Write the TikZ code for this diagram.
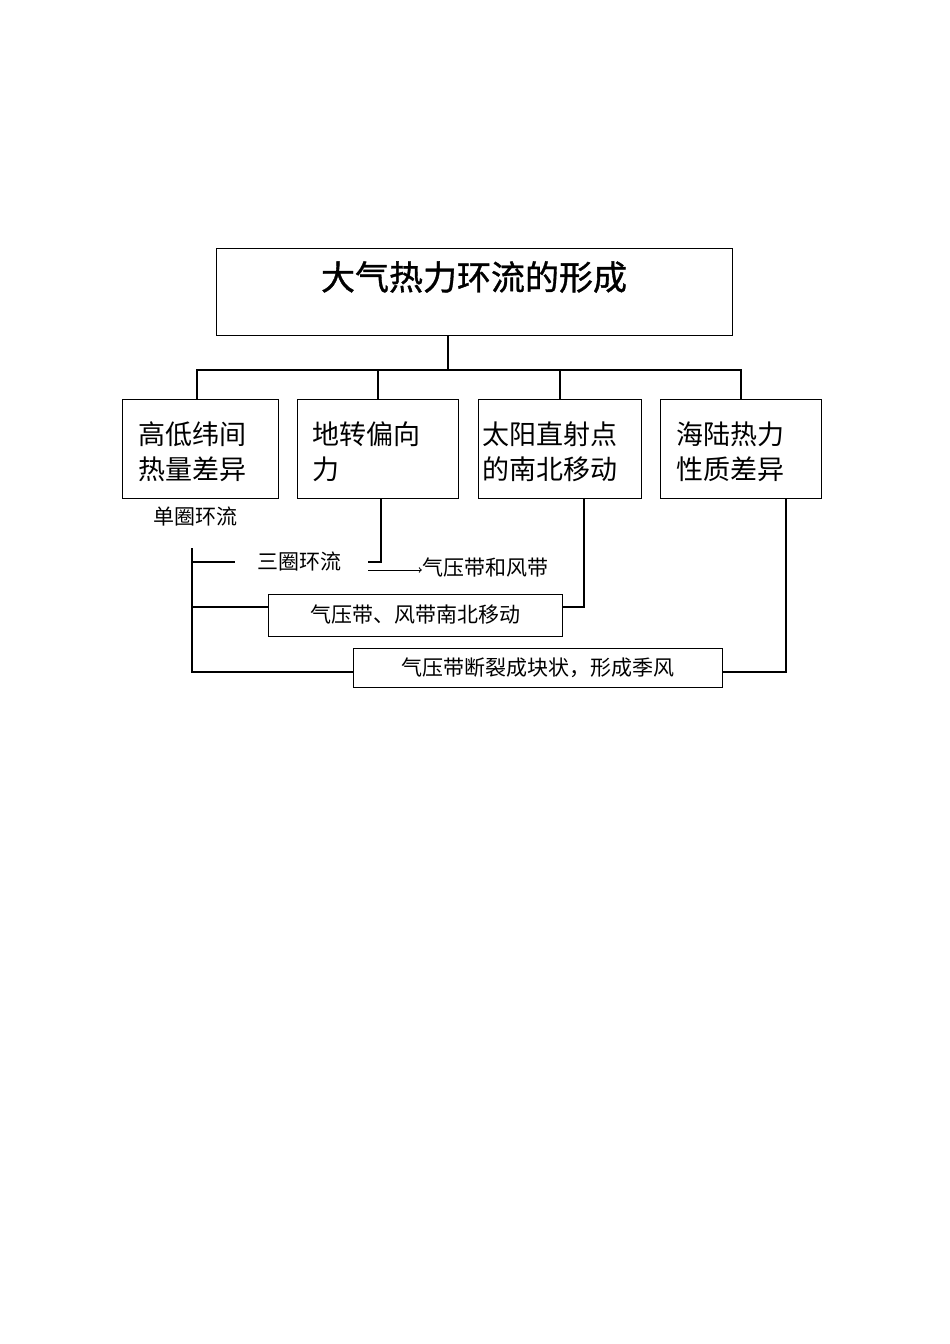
\documentclass[tikz,border=0pt]{standalone}
\usepackage{fontspec}
\setmainfont{Noto Sans CJK SC}
\newfontfamily\cjkb[FakeBold=1]{Noto Sans CJK SC}
\begin{document}
\begin{tikzpicture}[x=1pt,y=-1pt,
  box/.style={draw,line width=1pt,inner sep=0pt},
  ln/.style={line width=2.6pt},
  t/.style={font=\fontsize{27}{35}\selectfont,align=left,anchor=west,inner sep=0pt},
  s/.style={font=\fontsize{21}{25}\selectfont,inner sep=0pt}]
\useasboundingbox[fill=white] (0,0) rectangle (950,1344);
\node[box,minimum width=516pt,minimum height=87pt] (top) at (474,291.5) {};
\node[font=\cjkb\fontsize{34}{40}\selectfont] (tt) at (474,277) {大气热力环流的形成};
\node[box,minimum width=156pt,minimum height=99pt] (b1) at (200,448.5) {};
\node[box,minimum width=161pt,minimum height=99pt] (b2) at (377.5,448.5) {};
\node[box,minimum width=163pt,minimum height=99pt] (b3) at (559.5,448.5) {};
\node[box,minimum width=161pt,minimum height=99pt] (b4) at (740.5,448.5) {};
\node[t] (t1) at (138,452) {高低纬间\\热量差异};
\node[t] (t2) at (312,452) {地转偏向\\力};
\node[t] (t3) at (482,452) {太阳直射点\\的南北移动};
\node[t] (t4) at (676,452) {海陆热力\\性质差异};
\coordinate (h) at (448,370);
\draw[ln] (top.south -| h) -- (h);
\draw[ln] (197,399) |- (741,370) -- (741,399);
\draw[ln] (378,370) -- (378,399);
\draw[ln] (560,370) -- (560,399);
\node[s] (dq) at (195,517) {单圈环流};
\node[s] (sq) at (299,562) {三圈环流};
\node[s] (qf) at (485,568) {气压带和风带};
\node[box,s,minimum width=294pt,minimum height=42pt] (m1) at (415,615) {气压带、风带南北移动};
\node[box,s,minimum width=369pt,minimum height=39pt] (m2) at (537.5,667.5) {气压带断裂成块状，形成季风};
\draw[ln] (192,548) -- (192,672) -- (m2.west |- 0,672);
\draw[ln] (192,562) -- (235,562);
\draw[ln] (192,607) -- (m1.west |- 0,607);
\draw[ln] (381,498) -- (381,562) -- (368,562);
\draw[->,line width=1pt] (368,570) -- (qf.west |- 0,570);
\draw[ln] (m1.east |- 0,607) -- (584,607) -- (584,498);
\draw[ln] (m2.east |- 0,672) -- (786,672) -- (786,498);
\end{tikzpicture}
\end{document}
